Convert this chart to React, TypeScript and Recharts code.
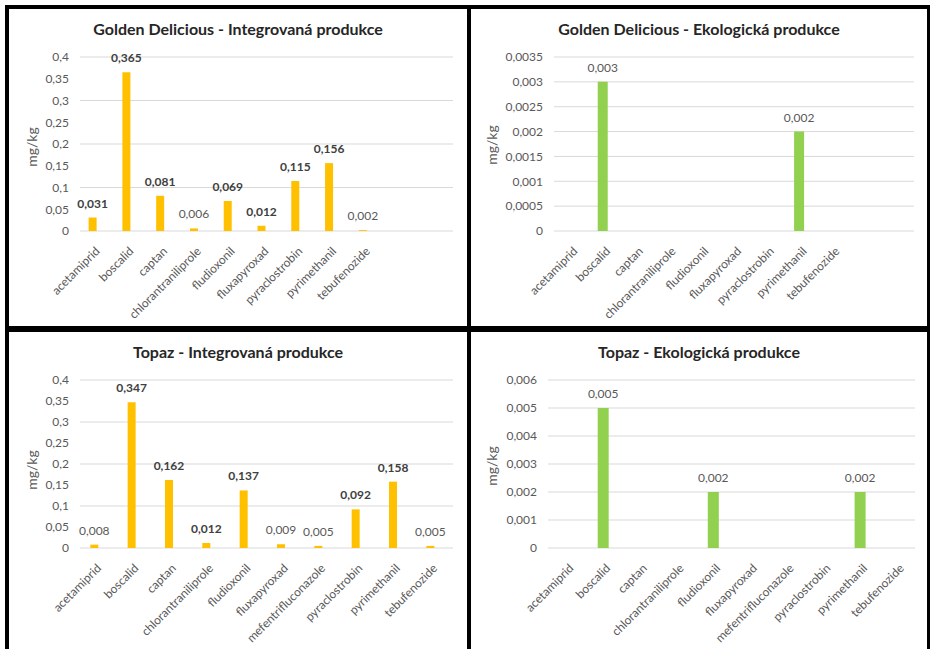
import React from 'react';
import { BarChart, Bar, XAxis, YAxis, CartesianGrid, LabelList } from 'recharts';

// categories (two empty slots at the end of the Golden Delicious axis)
const goldenCategories = [
  'acetamiprid', 'boscalid', 'captan', 'chlorantraniliprole', 'fludioxonil',
  'fluxapyroxad', 'pyraclostrobin', 'pyrimethanil', 'tebufenozide', '', '',
];
const topazCategories = [
  'acetamiprid', 'boscalid', 'captan', 'chlorantraniliprole', 'fludioxonil',
  'fluxapyroxad', 'mefentrifluconazole', 'pyraclostrobin', 'pyrimethanil', 'tebufenozide',
];

// mg/kg
const goldenIntegrated = [0.031, 0.365, 0.081, 0.006, 0.069, 0.012, 0.115, 0.156, 0.002, null, null];
const goldenOrganic = [null, 0.003, null, null, null, null, null, 0.002, null, null, null];
const topazIntegrated = [0.008, 0.347, 0.162, 0.012, 0.137, 0.009, 0.005, 0.092, 0.158, 0.005];
const topazOrganic = [null, 0.005, null, null, 0.002, null, null, null, 0.002, null];

const integratedTicks = [0, 0.05, 0.1, 0.15, 0.2, 0.25, 0.3, 0.35, 0.4];
const goldenOrganicTicks = [0, 0.0005, 0.001, 0.0015, 0.002, 0.0025, 0.003, 0.0035];
const topazOrganicTicks = [0, 0.001, 0.002, 0.003, 0.004, 0.005, 0.006];

// values above the quantification limit are shown in bold
const LOQ = 0.01;

const FONT = 'Lato, "Open Sans", sans-serif';
const GREY = '#595959';
const YELLOW = '#FFC000';
const GREEN = '#92D050';

const fmt = (v: number) => String(+v.toFixed(4)).replace('.', ',');

const RotatedTick = (props: any) => {
  const { x, y, payload } = props;
  return (
    <g transform={`translate(${x + 5},${y + 18})`}>
      <text textAnchor="end" dy="0.35em" transform="rotate(-45)" fill={GREY} fontSize={12} fontFamily={FONT}>
        {payload.value}
      </text>
    </g>
  );
};

const ValueLabel = (props: any) => {
  const { x, y, width, value } = props;
  if (value == null) return null;
  const strong = value > LOQ;
  return (
    <text
      x={x + width / 2}
      y={y - 10}
      textAnchor="middle"
      fontSize={12}
      fontFamily={FONT}
      fontWeight={strong ? 700 : 400}
      fill={strong ? '#404040' : GREY}
    >
      {value.toFixed(3).replace('.', ',')}
    </text>
  );
};

type Rect = { left: number; right: number; top: number; bottom: number };

interface PanelProps {
  left: number;
  top: number;
  width: number;
  height: number;
  title: string;
  categories: string[];
  values: (number | null)[];
  ticks: number[];
  color: string;
  plot: Rect;
  pad: [number, number];
  barSize: number;
  unitAt: [number, number];
}

const Panel: React.FC<PanelProps> = ({
  left, top, width, height, title, categories, values, ticks, color, plot, pad, barSize, unitAt,
}) => {
  const data = categories.map((name, i) => ({ name, value: values[i] }));
  const yWidth = 50;
  const xHeight = 80;
  const margin = {
    top: plot.top - top,
    left: plot.left - left - yWidth,
    right: left + width - plot.right,
    bottom: top + height - plot.bottom - xHeight,
  };
  return (
    <>
      <div style={{ position: 'absolute', left, top, width, height, background: '#fff' }}>
        <BarChart width={width} height={height} data={data} margin={margin}>
          <CartesianGrid vertical={false} stroke="#D9D9D9" />
          <XAxis
            dataKey="name"
            interval={0}
            tick={<RotatedTick />}
            tickLine={false}
            axisLine={false}
            tickSize={0}
            tickMargin={0}
            height={xHeight}
            padding={{ left: pad[0], right: pad[1] }}
          />
          <YAxis
            domain={[0, ticks[ticks.length - 1]]}
            ticks={ticks}
            tickFormatter={fmt}
            axisLine={false}
            tickLine={false}
            tickSize={0}
            tickMargin={11}
            width={yWidth}
            tick={{ fill: GREY, fontSize: 12, fontFamily: FONT }}
          />
          <Bar dataKey="value" fill={color} barSize={barSize} isAnimationActive={false}>
            <LabelList dataKey="value" content={ValueLabel} />
          </Bar>
        </BarChart>
      </div>
      <div
        style={{
          position: 'absolute', left, top: top + 10, width, height: 20, lineHeight: '20px',
          textAlign: 'center', fontFamily: FONT, fontWeight: 700, fontSize: 16, color: '#262626',
        }}
      >
        {title}
      </div>
      <div
        style={{
          position: 'absolute', left: unitAt[0] - 30, top: unitAt[1] - 10, width: 60, height: 20,
          lineHeight: '20px', textAlign: 'center', fontFamily: FONT, fontSize: 14, color: GREY,
          transform: 'rotate(-90deg)',
        }}
      >
        mg/kg
      </div>
    </>
  );
};

export default function App() {
  return (
    <div style={{ position: 'absolute', left: 0, top: 0, width: 931, height: 649, background: '#fff', overflow: 'hidden' }}>
      <div style={{ position: 'absolute', left: 5, top: 5, width: 925, height: 644, background: '#000' }} />
      <Panel
        left={9} top={9} width={458} height={317}
        title="Golden Delicious - Integrovaná produkce"
        categories={goldenCategories} values={goldenIntegrated} ticks={integratedTicks} color={YELLOW}
        plot={{ left: 80, right: 453, top: 57, bottom: 231 }} pad={[-4.4, 5.8]} barSize={8} unitAt={[32, 147]}
      />
      <Panel
        left={471} top={9} width={456} height={317}
        title="Golden Delicious - Ekologická produkce"
        categories={goldenCategories} values={goldenOrganic} ticks={goldenOrganicTicks} color={GREEN}
        plot={{ left: 554, right: 914, top: 57, bottom: 231 }} pad={[0, 0]} barSize={10} unitAt={[492, 145]}
      />
      <Panel
        left={9} top={332} width={458} height={317}
        title="Topaz - Integrovaná produkce"
        categories={topazCategories} values={topazIntegrated} ticks={integratedTicks} color={YELLOW}
        plot={{ left: 80, right: 453, top: 380, bottom: 548 }} pad={[-4.7, 4.3]} barSize={8} unitAt={[32, 470]}
      />
      <Panel
        left={471} top={332} width={456} height={317}
        title="Topaz - Ekologická produkce"
        categories={topazCategories} values={topazOrganic} ticks={topazOrganicTicks} color={GREEN}
        plot={{ left: 548, right: 915, top: 380, bottom: 548 }} pad={[0, 0]} barSize={11} unitAt={[492, 466]}
      />
    </div>
  );
}
